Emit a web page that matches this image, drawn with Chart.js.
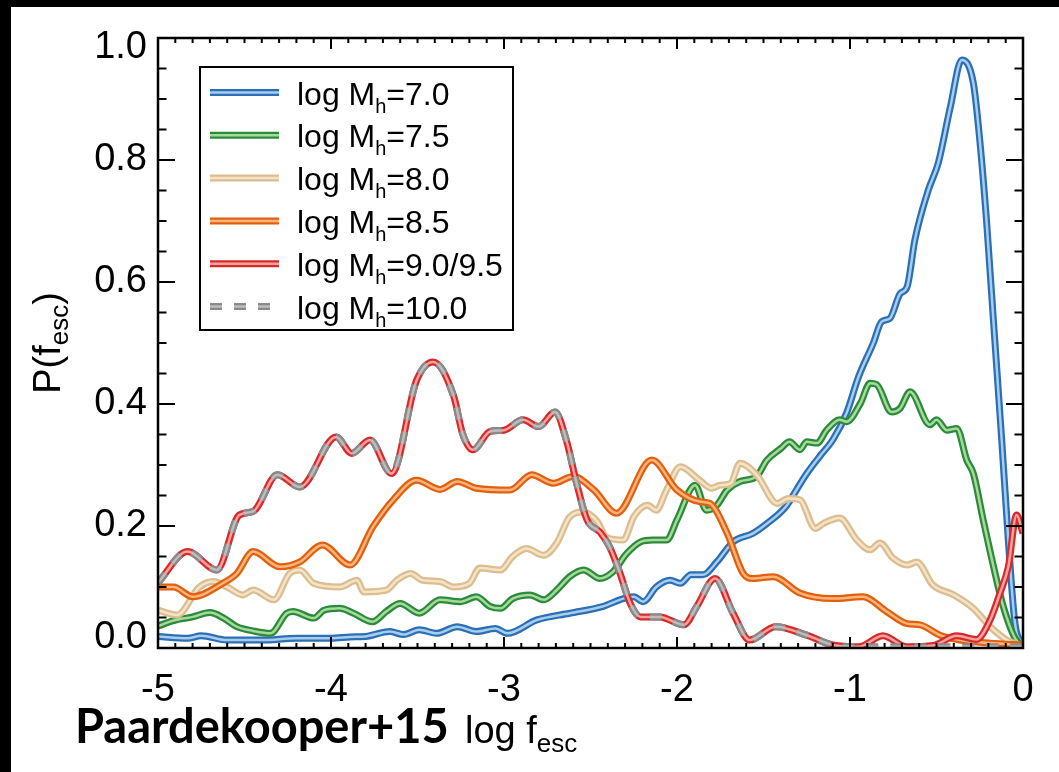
<!DOCTYPE html>
<html>
<head>
<meta charset="utf-8">
<script src="https://cdn.jsdelivr.net/npm/chart.js@4.4.1/dist/chart.umd.min.js"></script>
<style>
  html, body { margin: 0; padding: 0; background: #000; }
  body { width: 1059px; height: 772px; overflow: hidden; position: relative; }
  #wrap { position: absolute; left: 11px; top: 7px; width: 1048px; height: 765px; background: #fff; }
</style>
</head>
<body>
<div id="wrap"><canvas id="fesc" width="1048" height="765"></canvas></div>
<script>
// halo mass bins (log M_h), as in the legend
const massLabels = ['7.0', '7.5', '8.0', '8.5', '9.0/9.5', '10.0'];

// log f_esc / P(f_esc), one pair per mass bin
const xM70 = [-5.0, -4.83, -4.75, -4.6, -4.4, -4.2, -4.0, -3.89, -3.8, -3.66, -3.58, -3.49, -3.39, -3.27, -3.16, -3.05, -2.98, -2.81, -2.62, -2.43, -2.31, -2.25, -2.195, -2.12, -2.04, -1.98, -1.92, -1.85, -1.77, -1.675, -1.56, -1.48, -1.37, -1.31, -1.25, -1.17, -1.10, -1.02, -0.95, -0.865, -0.817, -0.77, -0.71, -0.67, -0.625, -0.547, -0.49, -0.42, -0.354, -0.287, -0.25, -0.21, -0.17, -0.123, -0.085, -0.046, 0];
const yM70 = [0.019, 0.016, 0.02, 0.013, 0.013, 0.016, 0.016, 0.018, 0.019, 0.027, 0.022, 0.03, 0.024, 0.035, 0.027, 0.032, 0.024, 0.046, 0.057, 0.068, 0.081, 0.084, 0.076, 0.10, 0.111, 0.106, 0.12, 0.12, 0.141, 0.174, 0.188, 0.204, 0.232, 0.259, 0.286, 0.316, 0.341, 0.385, 0.445, 0.50, 0.535, 0.54, 0.581, 0.592, 0.669, 0.751, 0.795, 0.887, 0.964, 0.926, 0.833, 0.697, 0.533, 0.341, 0.177, 0.04, 0.005];

const xM75 = [-5.0, -4.91, -4.80, -4.70, -4.62, -4.545, -4.45, -4.35, -4.256, -4.22, -4.10, -4.04, -3.95, -3.87, -3.76, -3.68, -3.60, -3.49, -3.37, -3.25, -3.16, -3.08, -3.02, -2.95, -2.85, -2.77, -2.695, -2.62, -2.54, -2.445, -2.37, -2.29, -2.21, -2.14, -2.06, -2.0, -1.895, -1.83, -1.77, -1.71, -1.636, -1.54, -1.48, -1.40, -1.35, -1.29, -1.25, -1.19, -1.135, -1.06, -1.02, -0.94, -0.884, -0.846, -0.76, -0.71, -0.653, -0.538, -0.50, -0.44, -0.383, -0.325, -0.287, -0.23, -0.17, -0.114, -0.046, 0];
const yM75 = [0.036, 0.045, 0.051, 0.058, 0.049, 0.035, 0.028, 0.024, 0.057, 0.06, 0.049, 0.062, 0.065, 0.057, 0.043, 0.06, 0.073, 0.057, 0.079, 0.076, 0.084, 0.068, 0.065, 0.081, 0.087, 0.079, 0.095, 0.117, 0.128, 0.114, 0.125, 0.155, 0.174, 0.177, 0.177, 0.21, 0.267, 0.226, 0.234, 0.259, 0.273, 0.281, 0.308, 0.327, 0.338, 0.325, 0.338, 0.336, 0.357, 0.374, 0.371, 0.401, 0.434, 0.432, 0.387, 0.393, 0.42, 0.366, 0.374, 0.357, 0.36, 0.308, 0.286, 0.21, 0.133, 0.068, 0.016, 0.003];

const xM80 = [-5.0, -4.89, -4.76, -4.68, -4.60, -4.51, -4.45, -4.33, -4.24, -4.18, -4.10, -3.95, -3.85, -3.81, -3.68, -3.62, -3.54, -3.47, -3.37, -3.29, -3.2, -3.14, -3.02, -2.95, -2.87, -2.77, -2.695, -2.62, -2.54, -2.46, -2.41, -2.31, -2.25, -2.17, -2.12, -2.06, -1.98, -1.87, -1.80, -1.75, -1.69, -1.636, -1.54, -1.42, -1.357, -1.29, -1.20, -1.155, -1.06, -0.96, -0.884, -0.827, -0.75, -0.67, -0.615, -0.52, -0.40, -0.287, -0.19, -0.094, 0];
const yM80 = [0.062, 0.054, 0.10, 0.109, 0.10, 0.087, 0.095, 0.079, 0.122, 0.128, 0.106, 0.10, 0.111, 0.092, 0.095, 0.111, 0.122, 0.111, 0.109, 0.10, 0.106, 0.131, 0.128, 0.15, 0.163, 0.152, 0.172, 0.215, 0.223, 0.207, 0.182, 0.177, 0.215, 0.234, 0.226, 0.259, 0.297, 0.275, 0.262, 0.267, 0.27, 0.303, 0.284, 0.237, 0.245, 0.243, 0.196, 0.204, 0.213, 0.177, 0.161, 0.172, 0.147, 0.136, 0.141, 0.103, 0.087, 0.065, 0.035, 0.013, 0.002];

const xM85 = [-5.0, -4.91, -4.8, -4.62, -4.545, -4.45, -4.295, -4.18, -4.05, -3.89, -3.757, -3.64, -3.505, -3.37, -3.27, -3.16, -2.965, -2.84, -2.715, -2.6, -2.48, -2.35, -2.146, -2.0, -1.87, -1.81, -1.71, -1.617, -1.56, -1.443, -1.29, -1.1, -0.925, -0.79, -0.67, -0.595, -0.48, -0.364, -0.19, 0];
const yM85 = [0.10, 0.10, 0.084, 0.107, 0.122, 0.158, 0.133, 0.141, 0.169, 0.136, 0.199, 0.243, 0.275, 0.26, 0.273, 0.262, 0.259, 0.284, 0.27, 0.281, 0.259, 0.221, 0.308, 0.259, 0.24, 0.237, 0.188, 0.122, 0.114, 0.117, 0.09, 0.081, 0.084, 0.06, 0.04, 0.038, 0.021, 0.013, 0.008, 0.005];

const xM90 = [-5.0, -4.83, -4.66, -4.53, -4.45, -4.31, -4.18, -3.97, -3.88, -3.775, -3.65, -3.505, -3.41, -3.29, -3.24, -3.18, -3.08, -3.0, -2.89, -2.80, -2.705, -2.64, -2.58, -2.52, -2.445, -2.39, -2.33, -2.27, -2.21, -2.10, -1.96, -1.886, -1.78, -1.676, -1.58, -1.43, -1.25, -1.1, -0.95, -0.81, -0.67, -0.52, -0.383, -0.27, -0.19, -0.133, -0.085, -0.037, 0];
const yM90 = [0.107, 0.158, 0.128, 0.218, 0.224, 0.284, 0.264, 0.346, 0.319, 0.341, 0.286, 0.439, 0.469, 0.412, 0.352, 0.325, 0.355, 0.357, 0.374, 0.363, 0.387, 0.341, 0.27, 0.21, 0.19, 0.166, 0.123, 0.073, 0.051, 0.051, 0.038, 0.068, 0.114, 0.057, 0.013, 0.035, 0.021, 0.005, 0.002, 0.02, 0.002, 0.004, 0.02, 0.014, 0.046, 0.09, 0.133, 0.218, 0.188];

const xM100 = [-5.0, -4.83, -4.66, -4.53, -4.45, -4.31, -4.18, -3.97, -3.88, -3.775, -3.65, -3.505, -3.41, -3.29, -3.24, -3.18, -3.08, -3.0, -2.89, -2.80, -2.705, -2.64, -2.58, -2.52, -2.445, -2.39, -2.33, -2.27, -2.21, -2.10, -1.96, -1.886, -1.78, -1.676, -1.58, -1.43, -1.25, -1.1, -0.95, -0.7, -0.4, -0.15, 0];
const yM100 = [0.107, 0.158, 0.128, 0.218, 0.224, 0.284, 0.264, 0.346, 0.319, 0.341, 0.286, 0.439, 0.469, 0.412, 0.352, 0.325, 0.355, 0.357, 0.374, 0.363, 0.387, 0.341, 0.27, 0.21, 0.19, 0.166, 0.123, 0.073, 0.051, 0.051, 0.038, 0.068, 0.114, 0.057, 0.013, 0.035, 0.021, 0.005, 0.002, 0.002, 0.002, 0.002, 0.002];

const xTicks = [-5, -4, -3, -2, -1, 0];
const yTicks = [0.0, 0.2, 0.4, 0.6, 0.8, 1.0];

const xSeries = [xM70, xM75, xM80, xM85, xM90, xM100];
const ySeries = [yM70, yM75, yM80, yM85, yM90, yM100];

// double-stroke look: dark rim + light core
const rimColors  = ['#2b70b4', '#2c8a3c', '#dbbd90', '#e0600f', '#d62a2b', '#8a8a8a'];
const coreColors = ['#a8cdee', '#a6da98', '#f5e3c8', '#fdb37c', '#f7a3a0', '#bdbdbd'];
const dashed = [false, false, false, false, false, true];

const FONT = '"Liberation Sans", Arial, Helvetica, sans-serif';

let datasets = [];
let order = 20;
for (let s = 0; s < xSeries.length; s++) {
    const pts = xSeries[s].map((x, i) => ({x: x, y: ySeries[s][i]}));
    const dash = dashed[s] ? [12, 12] : [];
    datasets.push({
        label: 'log Mh=' + massLabels[s],
        data: pts, borderColor: rimColors[s], borderWidth: 7, borderDash: dash,
        pointRadius: 0, cubicInterpolationMode: 'monotone', order: order--,
        borderCapStyle: 'butt', borderJoinStyle: 'round'
    });
    datasets.push({
        label: 'core ' + massLabels[s],
        data: pts, borderColor: coreColors[s], borderWidth: 2.5, borderDash: dash,
        pointRadius: 0, cubicInterpolationMode: 'monotone', order: order--,
        borderCapStyle: 'butt', borderJoinStyle: 'round'
    });
}

// text with a lowered subscript, returns end x
function subText(ctx, x, y, main, sub, tail, size, subSize, shift, weight) {
    const w = weight || '';
    ctx.font = w + ' ' + size + 'px ' + FONT;
    ctx.fillText(main, x, y);
    x += ctx.measureText(main).width;
    ctx.font = w + ' ' + subSize + 'px ' + FONT;
    ctx.fillText(sub, x, y + shift);
    x += ctx.measureText(sub).width;
    if (tail) {
        ctx.font = w + ' ' + size + 'px ' + FONT;
        ctx.fillText(tail, x, y);
        x += ctx.measureText(tail).width;
    }
    return x;
}
function subWidth(ctx, main, sub, tail, size, subSize) {
    ctx.font = size + 'px ' + FONT;
    let w = ctx.measureText(main).width + (tail ? ctx.measureText(tail).width : 0);
    ctx.font = subSize + 'px ' + FONT;
    return w + ctx.measureText(sub).width;
}

const framePlugin = {
    id: 'framePlugin',
    afterDatasetsDraw(chart) {
        const ctx = chart.ctx, a = chart.chartArea;
        const xs = chart.scales.x, ys = chart.scales.y;
        ctx.save();
        ctx.strokeStyle = '#000';
        ctx.fillStyle = '#000';

        // inward ticks on all four sides
        ctx.lineWidth = 2;
        ctx.beginPath();
        for (let i = 0; i <= 50; i++) {
            const px = xs.getPixelForValue(-5 + i * 0.1);
            const len = i % 10 === 0 ? 11 : 5;
            ctx.moveTo(px, a.bottom); ctx.lineTo(px, a.bottom - len);
            ctx.moveTo(px, a.top); ctx.lineTo(px, a.top + len);
        }
        for (let i = 0; i <= 20; i++) {
            const py = ys.getPixelForValue(i * 0.05);
            const len = i % 4 === 0 ? 17 : 8.5;
            ctx.moveTo(a.left, py); ctx.lineTo(a.left + len, py);
            ctx.moveTo(a.right, py); ctx.lineTo(a.right - len, py);
        }
        ctx.stroke();
        ctx.lineWidth = 2.5;
        ctx.strokeRect(a.left, a.top, a.right - a.left, a.bottom - a.top);

        // y tick labels, kept inside the frame height like IDL does
        ctx.font = '38px ' + FONT;
        ctx.textAlign = 'right';
        ctx.textBaseline = 'middle';
        yTicks.forEach(v => {
            let py = ys.getPixelForValue(v);
            py = Math.min(Math.max(py, a.top + 10), a.bottom - 10);
            ctx.fillText(v.toFixed(1), a.left - 11, py);
        });

        // legend
        const lx = 189, ly = 60, lw = 313, lh = 263;
        ctx.fillStyle = '#fff';
        ctx.fillRect(lx, ly, lw, lh);
        ctx.lineWidth = 2;
        ctx.strokeRect(lx, ly, lw, lh);
        ctx.fillStyle = '#000';
        ctx.textAlign = 'left';
        ctx.textBaseline = 'alphabetic';
        for (let s = 0; s < massLabels.length; s++) {
            const ry = 85.5 + s * 42.8;
            ctx.setLineDash(dashed[s] ? [12, 12] : []);
            ctx.lineCap = 'butt';
            ctx.strokeStyle = rimColors[s]; ctx.lineWidth = 7;
            ctx.beginPath(); ctx.moveTo(199, ry); ctx.lineTo(268, ry); ctx.stroke();
            ctx.strokeStyle = coreColors[s]; ctx.lineWidth = 2.5;
            ctx.beginPath(); ctx.moveTo(199, ry); ctx.lineTo(268, ry); ctx.stroke();
            ctx.setLineDash([]);
            subText(ctx, 286, ry + 12, 'log M', 'h', '=' + massLabels[s], 32, 20, 8);
        }

        // y axis title
        ctx.save();
        ctx.translate(49, 336);
        ctx.rotate(-Math.PI / 2);
        const tw = subWidth(ctx, 'P(f', 'esc', ')', 38, 26);
        subText(ctx, -tw / 2, 0, 'P(f', 'esc', ')', 38, 26, 8);
        ctx.restore();

        // bottom captions
        ctx.font = 'bold 47px Lato, "Open Sans", sans-serif';
        ctx.fillText('Paardekooper+15', 64, 736);
        subText(ctx, 454, 736, 'log f', 'esc', '', 38, 26, 9);

        ctx.restore();
    }
};

new Chart(document.getElementById('fesc'), {
    type: 'line',
    data: { datasets: datasets },
    plugins: [framePlugin],
    options: {
        responsive: false,
        animation: false,
        events: [],
        layout: { padding: { top: 31, right: 36, left: 0, bottom: 0 } },
        plugins: { legend: { display: false }, tooltip: { enabled: false } },
        scales: {
            x: {
                type: 'linear', min: -5, max: 0,
                grid: { display: false, drawTicks: false },
                border: { display: false },
                afterBuildTicks: sc => { sc.ticks = xTicks.map(v => ({value: v})); },
                afterFit: sc => { sc.height = 124; },
                ticks: {
                    color: '#000', padding: 20, maxRotation: 0,
                    font: { family: FONT, size: 38 },
                    callback: v => String(v)
                }
            },
            y: {
                type: 'linear', min: 0, max: 1,
                grid: { display: false, drawTicks: false },
                border: { display: false },
                afterFit: sc => { sc.width = 147; },
                ticks: { display: false }
            }
        }
    }
});
</script>
</body>
</html>
